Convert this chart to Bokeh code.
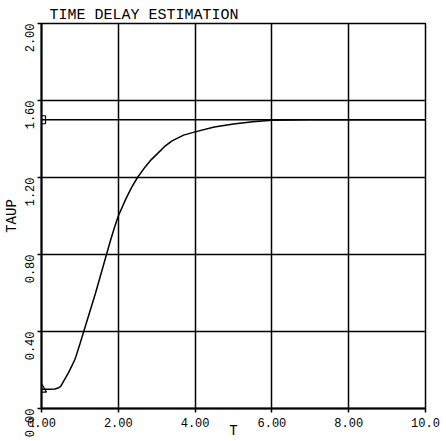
import math
from bokeh.plotting import figure
from bokeh.models import FixedTicker, Span, Range1d
from bokeh.embed import file_html
from bokeh.resources import INLINE

# ---------------- data ----------------
title_text = "TIME DELAY ESTIMATION"
x_label = "T"
y_label = "TAUP"
x_ticks = [0, 2, 4, 6, 8, 10]
x_tick_labels = ["0.00", "2.00", "4.00", "6.00", "8.00", "10.0"]
y_ticks = [0.0, 0.4, 0.8, 1.2, 1.6, 2.0]
y_tick_labels = ["0.00", "0.40", "0.80", "1.20", "1.60", "2.00"]

t_values = [0.0, 0.2, 0.35, 0.45, 0.5, 0.6, 0.7, 0.8, 0.87, 0.9, 1.0, 1.1, 1.2,
            1.3, 1.4, 1.5, 1.6, 1.7, 1.8, 1.9, 2.0, 2.2, 2.35, 2.5, 2.7, 2.86,
            3.0, 3.2, 3.4, 3.7, 4.0, 4.5, 5.0, 5.5, 6.0, 7.0, 8.0, 9.0, 10.0]
taup_values = [0.1, 0.1, 0.101, 0.108, 0.115, 0.15, 0.185, 0.225, 0.256, 0.272,
               0.335, 0.40, 0.465, 0.53, 0.595, 0.665, 0.735, 0.805, 0.875,
               0.94, 1.0, 1.09, 1.15, 1.2, 1.255, 1.293, 1.32, 1.36, 1.39,
               1.42, 1.437, 1.462, 1.478, 1.49, 1.497, 1.5, 1.5, 1.5, 1.5]

true_tau = 1.5
start_marker_t = [0.0]
start_marker_taup = [0.1]
ref_marker_t = [0.0]
ref_marker_taup = [1.5]

FONT = "Liberation Mono"

# ---------------- figure ----------------
p = figure(width=446, height=441, output_backend="svg", toolbar_location=None,
           x_range=Range1d(x_ticks[0], x_ticks[-1]),
           y_range=Range1d(y_ticks[0], y_ticks[-1]),
           min_border_left=40, min_border_right=21,
           min_border_top=23, min_border_bottom=32,
           title=title_text)
p.background_fill_color = "white"
p.border_fill_color = "white"
p.outline_line_color = "black"
p.outline_line_width = 1.5

p.title.text_font = FONT
p.title.text_font_size = "15px"
p.title.text_font_style = "normal"
p.title.text_color = "black"
p.title.align = "left"
p.title.offset = 8
p.title.standoff = -1

for ax, ticks, labels in ((p.xaxis[0], x_ticks, x_tick_labels),
                          (p.yaxis[0], y_ticks, y_tick_labels)):
    ax.ticker = FixedTicker(ticks=ticks)
    ax.major_label_overrides = {t: l for t, l in zip(ticks, labels)}
    ax.minor_tick_line_color = None
    ax.major_tick_in = 0
    ax.major_tick_out = 4
    ax.major_tick_line_color = "black"
    ax.major_tick_line_width = 1.5
    ax.axis_line_color = "black"
    ax.axis_line_width = 2
    ax.major_label_text_font = FONT
    ax.major_label_text_font_size = "12px"
    ax.major_label_text_color = "black"
    ax.axis_label_text_font = FONT
    ax.axis_label_text_font_size = "14px"
    ax.axis_label_text_font_style = "normal"
    ax.axis_label_text_color = "black"

p.xaxis.axis_label = x_label
p.yaxis.axis_label = y_label
p.xaxis.major_label_standoff = 5
p.xaxis.major_label_text_align = "left"
p.xaxis.axis_label_standoff = -7
p.yaxis.major_label_orientation = math.pi / 2
p.yaxis.major_label_standoff = 8
p.yaxis.axis_label_standoff = -2

for g in (p.xgrid[0], p.ygrid[0]):
    g.grid_line_color = "black"
    g.grid_line_width = 1.5
    g.grid_line_alpha = 1.0

p.add_layout(Span(location=true_tau, dimension="width",
                  line_color="black", line_width=1.5))

p.line(t_values, taup_values, line_color="black", line_width=1.5)
p.scatter(ref_marker_t, ref_marker_taup, marker="square", size=8,
          fill_color=None, line_color="black", line_width=1.2)
p.scatter(start_marker_t, start_marker_taup, marker="triangle", size=10,
          fill_color=None, line_color="black", line_width=1.2)

open("out.html", "w").write(file_html(p, INLINE))
